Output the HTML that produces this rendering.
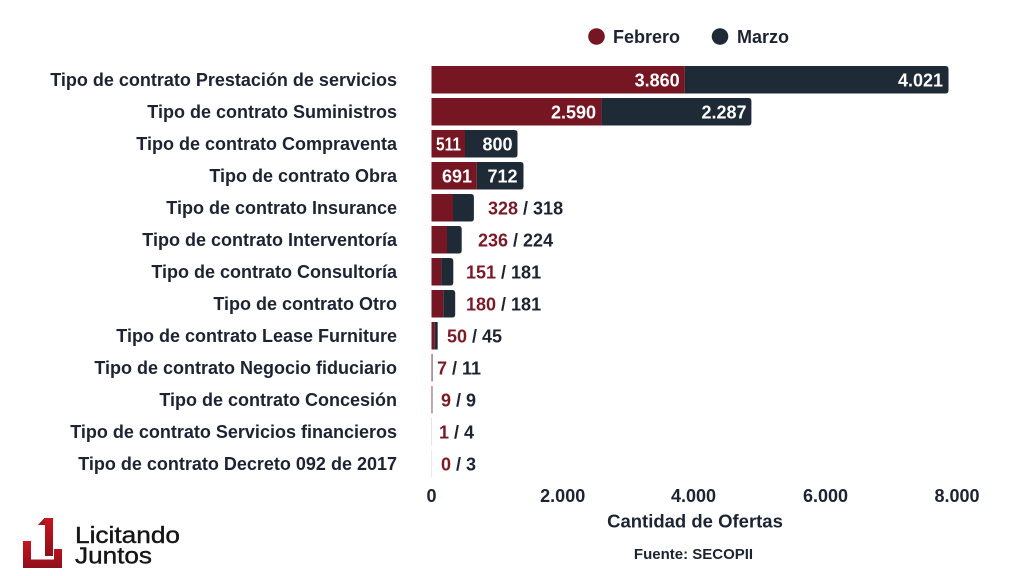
<!DOCTYPE html>
<html>
<head>
<meta charset="utf-8">
<style>
  html, body { margin:0; padding:0; background:#ffffff; }
  svg { display:block; }
  text { font-family: "Liberation Sans", Arial, sans-serif; }
</style>
</head>
<body>
<svg width="1024" height="576" viewBox="0 0 1024 576" xmlns="http://www.w3.org/2000/svg">
  <defs>
    <linearGradient id="lg" x1="0" y1="0" x2="0" y2="1">
      <stop offset="0" stop-color="#c8141f"/>
      <stop offset="1" stop-color="#8e0f1a"/>
    </linearGradient>
  </defs>
  <rect width="1024" height="576" fill="#ffffff"/>

  <!-- Legend -->
  <circle cx="596.5" cy="36.5" r="8.3" fill="#761622"/>
  <text x="613" y="43" font-size="18" font-weight="bold" fill="#1c2333">Febrero</text>
  <circle cx="720" cy="36.5" r="8.3" fill="#1f2a37"/>
  <text x="737" y="43" font-size="18" font-weight="bold" fill="#1c2333">Marzo</text>

  <!-- Category labels -->
  <g font-size="18" font-weight="bold" fill="#1c2333" text-anchor="end">
    <text x="397" y="86">Tipo de contrato Prestación de servicios</text>
    <text x="397" y="118">Tipo de contrato Suministros</text>
    <text x="397" y="150">Tipo de contrato Compraventa</text>
    <text x="397" y="182">Tipo de contrato Obra</text>
    <text x="397" y="214">Tipo de contrato Insurance</text>
    <text x="397" y="246">Tipo de contrato Interventoría</text>
    <text x="397" y="278">Tipo de contrato Consultoría</text>
    <text x="397" y="310">Tipo de contrato Otro</text>
    <text x="397" y="342">Tipo de contrato Lease Furniture</text>
    <text x="397" y="374">Tipo de contrato Negocio fiduciario</text>
    <text x="397" y="406">Tipo de contrato Concesión</text>
    <text x="397" y="438">Tipo de contrato Servicios financieros</text>
    <text x="397" y="470">Tipo de contrato Decreto 092 de 2017</text>
  </g>

  <!-- Bars: Febrero (red) -->
  <g fill="#761622">
    <rect x="431.5" y="66" width="253.2" height="27.5"/>
    <rect x="431.5" y="98" width="169.9" height="27.5"/>
    <rect x="431.5" y="130" width="33.5" height="27.5"/>
    <rect x="431.5" y="162" width="45.3" height="27.5"/>
    <rect x="431.5" y="194" width="21.5" height="27.5"/>
    <rect x="431.5" y="226" width="15.5" height="27.5"/>
    <rect x="431.5" y="258" width="9.9" height="27.5"/>
    <rect x="431.5" y="290" width="11.8" height="27.5"/>
    <rect x="431.5" y="322" width="3.3" height="27.5"/>
    <rect x="431.5" y="354" width="0.6" height="27.5" opacity="0.8"/>
    <rect x="431.5" y="386" width="0.6" height="27.5" opacity="0.8"/>
  </g>
  <!-- Bars: Marzo (dark) -->
  <g fill="#1f2a37">
    <path d="M684.7 66 H945.5 Q948.5 66 948.5 69 V90.5 Q948.5 93.5 945.5 93.5 H684.7 Z"/>
    <path d="M601.4 98 H748.4 Q751.4 98 751.4 101 V122.5 Q751.4 125.5 748.4 125.5 H601.4 Z"/>
    <path d="M465 130 H514.5 Q517.5 130 517.5 133 V154.5 Q517.5 157.5 514.5 157.5 H465 Z"/>
    <path d="M476.8 162 H520.5 Q523.5 162 523.5 165 V186.5 Q523.5 189.5 520.5 189.5 H476.8 Z"/>
    <path d="M453 194 H470.9 Q473.9 194 473.9 197 V218.5 Q473.9 221.5 470.9 221.5 H453 Z"/>
    <path d="M447 226 H458.7 Q461.7 226 461.7 229 V250.5 Q461.7 253.5 458.7 253.5 H447 Z"/>
    <path d="M441.4 258 H450.3 Q453.3 258 453.3 261 V282.5 Q453.3 285.5 450.3 285.5 H441.4 Z"/>
    <path d="M443.3 290 H452.2 Q455.2 290 455.2 293 V314.5 Q455.2 317.5 452.2 317.5 H443.3 Z"/>
    <rect x="434.8" y="322" width="2.9" height="27.5"/>
    <rect x="432.1" y="354" width="0.7" height="27.5" opacity="0.6"/>
    <rect x="432.1" y="386" width="0.6" height="27.5" opacity="0.5"/>
    <rect x="431.5" y="418" width="0.5" height="27.5" opacity="0.25"/>
    <rect x="431.5" y="450" width="0.5" height="27.5" opacity="0.2"/>
  </g>

  <!-- Inside value labels -->
  <g font-size="18" font-weight="bold" fill="#ffffff" text-anchor="end">
    <text x="679.7" y="86.5">3.860</text>
    <text x="943" y="86.5">4.021</text>
    <text x="596" y="118.5">2.590</text>
    <text x="746.5" y="118.5">2.287</text>
    <text x="512.5" y="150.5">800</text>
    <text x="472" y="182.5">691</text>
    <text x="517.5" y="182.5">712</text>
  </g>
  <text x="436" y="150.5" font-size="18" font-weight="bold" fill="#ffffff" textLength="25" lengthAdjust="spacingAndGlyphs">511</text>

  <!-- Outside value labels -->
  <g font-size="18" font-weight="bold" fill="#1c2333">
    <text x="488" y="214.5"><tspan fill="#7a1a27">328</tspan> / 318</text>
    <text x="478" y="246.5"><tspan fill="#7a1a27">236</tspan> / 224</text>
    <text x="466" y="278.5"><tspan fill="#7a1a27">151</tspan> / 181</text>
    <text x="466" y="310.5"><tspan fill="#7a1a27">180</tspan> / 181</text>
    <text x="447" y="342.5"><tspan fill="#7a1a27">50</tspan> / 45</text>
    <text x="437" y="374.5"><tspan fill="#7a1a27">7</tspan> / 11</text>
    <text x="441" y="406.5"><tspan fill="#7a1a27">9</tspan> / 9</text>
    <text x="439" y="438.5"><tspan fill="#7a1a27">1</tspan> / 4</text>
    <text x="441" y="470.5"><tspan fill="#7a1a27">0</tspan> / 3</text>
  </g>

  <!-- X axis ticks -->
  <g font-size="18" font-weight="bold" fill="#1c2333" text-anchor="middle">
    <text x="431.5" y="502">0</text>
    <text x="562.7" y="502">2.000</text>
    <text x="693.5" y="502">4.000</text>
    <text x="825.5" y="502">6.000</text>
    <text x="957" y="502">8.000</text>
  </g>
  <text x="695" y="527.5" font-size="18.5" font-weight="bold" fill="#1c2333" text-anchor="middle">Cantidad de Ofertas</text>
  <text x="693.5" y="559" font-size="15" font-weight="bold" fill="#1c2333" text-anchor="middle">Fuente: SECOPII</text>

  <!-- Logo -->
  <g fill="url(#lg)">
    <path d="M38 525 L44.5 518 L53 518 L53 556 L45 556 L45 525 Z"/>
    <path d="M23 541 L31 541 L31 559.5 L54 559.5 L54 549 L62 549 L62 568 L23 568 Z"/>
  </g>
  <path d="M44.5 518 L38 525 L45 525 Z" fill="#9b1520"/>
  <text x="75" y="543" font-size="23" fill="#151515" stroke="#151515" stroke-width="0.4" textLength="105" lengthAdjust="spacingAndGlyphs">Licitando</text>
  <text x="75" y="563.5" font-size="23" fill="#151515" stroke="#151515" stroke-width="0.4" textLength="77" lengthAdjust="spacingAndGlyphs">Juntos</text>
</svg>
</body>
</html>
